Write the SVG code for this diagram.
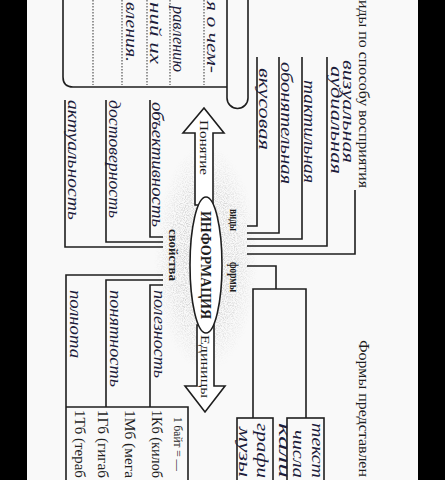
<svg xmlns="http://www.w3.org/2000/svg" width="445" height="480" viewBox="0 0 445 480">
<style>
.ln{fill:none;stroke:#1e1e1e;stroke-width:1.6}
.dot{fill:none;stroke:#555;stroke-width:1.2;stroke-dasharray:1.4 1.6}
.pr{font-family:"Liberation Serif","Times New Roman",serif;fill:#1e1e1e}
.hw{font-family:"Liberation Serif","Times New Roman",serif;font-style:italic;fill:#1c1c3a;font-size:16px}
.shape{fill:#fff;stroke:#1e1e1e;stroke-width:1.6}
</style>
<defs>
<radialGradient id="cg"><stop offset="0" stop-color="#000" stop-opacity="0.85"/><stop offset="0.6" stop-color="#000" stop-opacity="0.6"/><stop offset="1" stop-color="#000" stop-opacity="0"/></radialGradient>
<filter id="grain" x="-5%" y="-5%" width="110%" height="110%">
<feTurbulence type="fractalNoise" baseFrequency="0.9" numOctaves="2" seed="7" result="n"/>
<feColorMatrix in="n" type="matrix" values="0 0 0 0 0.55  0 0 0 0 0.55  0 0 0 0 0.55  3 0 0 0 -1.2" result="d"/>
<feComposite in="d" in2="SourceGraphic" operator="in"/>
</filter>
</defs>
<rect x="0" y="0" width="445" height="480" fill="#f9f9f9"/>
<rect x="0" y="0" width="27" height="480" fill="#000"/>
<rect x="418" y="0" width="27" height="480" fill="#000"/>

<g id="cloud"><ellipse cx="206" cy="258" rx="52" ry="114" fill="url(#cg)" filter="url(#grain)"/></g>

<g id="connectors">
<path class="ln" d="M247,226 H257 V57"/>
<path class="ln" d="M247,233 H279 V57"/>
<path class="ln" d="M247,239 H302 V57"/>
<path class="ln" d="M247,246 H327 V57"/>
<path class="ln" d="M247,254 H355 V190"/>
<path class="ln" d="M163,237 H150 V100"/>
<path class="ln" d="M163,242 H106 V100"/>
<path class="ln" d="M163,247 H65 V100"/>
<path class="ln" d="M163,275 H66 V485"/>
<path class="ln" d="M163,280 H106 V407"/>
<path class="ln" d="M163,285 H150 V407"/>
<path class="ln" d="M247,266 H276 V289"/>
<path class="ln" d="M253,418 V289 H306 V418"/>
</g>

<g id="definition">
<path class="ln" d="M63,-5 V77 Q63,87 73,87 H227"/>
<path class="ln" d="M227,-5 V98 A10.5,10.5 0 0 0 248,98 V-5"/>
<path class="dot" d="M93,0 V85 M122,0 V85 M147,0 V85 M170,0 V85 M204,0 V85"/>
<text class="hw" transform="translate(207,1) rotate(90)" textLength="72" lengthAdjust="spacingAndGlyphs">я о чем-</text>
<text class="hw" transform="translate(173,6) rotate(90)" textLength="66" lengthAdjust="spacingAndGlyphs">равлению</text>
<text class="hw" transform="translate(150,2) rotate(90)" textLength="62" lengthAdjust="spacingAndGlyphs">ний их</text>
<text class="hw" transform="translate(126,2) rotate(90)" textLength="60" lengthAdjust="spacingAndGlyphs">вления.</text>
</g>

<g id="perception">
<text class="pr" font-size="14" transform="translate(359,0) rotate(90)" textLength="188" lengthAdjust="spacingAndGlyphs">иды по способу восприятия</text>
<text class="hw" transform="translate(343,60) rotate(90)" textLength="103" lengthAdjust="spacingAndGlyphs">визуальная</text>
<text class="hw" transform="translate(331,66) rotate(90)" textLength="108" lengthAdjust="spacingAndGlyphs">аудиальная</text>
<text class="hw" transform="translate(304,80) rotate(90)" textLength="103" lengthAdjust="spacingAndGlyphs">тактильная</text>
<text class="hw" transform="translate(281,62) rotate(90)" textLength="122" lengthAdjust="spacingAndGlyphs">обонятельная</text>
<text class="hw" transform="translate(259,68) rotate(90)" textLength="82" lengthAdjust="spacingAndGlyphs">вкусовая</text>
</g>

<g id="properties">
<text class="hw" transform="translate(152,102) rotate(90)" textLength="125" lengthAdjust="spacingAndGlyphs">объективность</text>
<text class="hw" transform="translate(109,100) rotate(90)" textLength="118" lengthAdjust="spacingAndGlyphs">достоверность</text>
<text class="hw" transform="translate(68,100) rotate(90)" textLength="120" lengthAdjust="spacingAndGlyphs">актуальность</text>
<text class="hw" transform="translate(154,290) rotate(90)" textLength="88" lengthAdjust="spacingAndGlyphs">полезность</text>
<text class="hw" transform="translate(110,290) rotate(90)" textLength="97" lengthAdjust="spacingAndGlyphs">понятность</text>
<text class="hw" transform="translate(70,290) rotate(90)" textLength="68" lengthAdjust="spacingAndGlyphs">полнота</text>
</g>

<g id="units">
<path class="ln" d="M66,407 H188 V485"/>
<text class="pr" font-size="13" transform="translate(174,417) rotate(90)" textLength="54" lengthAdjust="spacingAndGlyphs">1 байт = —</text>
<text class="pr" font-size="14" transform="translate(152,410) rotate(90)" textLength="68" lengthAdjust="spacingAndGlyphs">1Кб (килоб</text>
<text class="pr" font-size="14" transform="translate(125,410) rotate(90)" textLength="68" lengthAdjust="spacingAndGlyphs">1Мб (мега</text>
<text class="pr" font-size="14" transform="translate(98,410) rotate(90)" textLength="68" lengthAdjust="spacingAndGlyphs">1Гб (гигаб</text>
<text class="pr" font-size="14" transform="translate(75,410) rotate(90)" textLength="68" lengthAdjust="spacingAndGlyphs">1Тб (тераб</text>
</g>

<g id="forms">
<text class="pr" font-size="14" transform="translate(359,340) rotate(90)" textLength="137" lengthAdjust="spacingAndGlyphs">Формы представлен</text>
<rect class="ln" x="237" y="418" width="36" height="70"/>
<rect class="ln" x="287" y="418" width="37" height="70"/>
<text class="hw" transform="translate(312,423) rotate(90)" textLength="55" lengthAdjust="spacingAndGlyphs">текст</text>
<text class="hw" transform="translate(293,430) rotate(90)" textLength="48" lengthAdjust="spacingAndGlyphs">числа</text>
<text class="hw" transform="translate(279,423) rotate(90)" textLength="55" lengthAdjust="spacingAndGlyphs">кали</text>
<text class="hw" transform="translate(257,423) rotate(90)" textLength="55" lengthAdjust="spacingAndGlyphs">графи</text>
<text class="hw" transform="translate(239,427) rotate(90)" textLength="50" lengthAdjust="spacingAndGlyphs">музы</text>
</g>

<g id="arrow-concept">
<path class="shape" d="M195,205 V133 H183 L204,108 L224,133 H213 V205 Z"/>
<text class="pr" font-size="13" transform="translate(200,120) rotate(90)" textLength="55" lengthAdjust="spacingAndGlyphs">Понятие</text>
</g>
<g id="arrow-units">
<path class="shape" d="M197,325 V386 H185 L205,412 L225,386 H214 V325 Z"/>
<text class="pr" font-size="13" transform="translate(201,335) rotate(90)" textLength="63" lengthAdjust="spacingAndGlyphs">Единицы</text>
</g>

<g id="information">
<ellipse class="shape" cx="206" cy="265" rx="16" ry="68"/>
<text class="pr" font-size="14" font-weight="bold" transform="translate(201,211) rotate(90)" textLength="108" lengthAdjust="spacingAndGlyphs">ИНФОРМАЦИЯ</text>
</g>

<g id="labels">
<text class="pr" font-size="13" font-weight="bold" transform="translate(230,209) rotate(90)" textLength="22" lengthAdjust="spacingAndGlyphs">виды</text>
<text class="pr" font-size="13" font-weight="bold" transform="translate(230,262) rotate(90)" textLength="30" lengthAdjust="spacingAndGlyphs">формы</text>
<text class="pr" font-size="13" font-weight="bold" transform="translate(169,229) rotate(90)" textLength="52" lengthAdjust="spacingAndGlyphs">свойства</text>
</g>
</svg>
